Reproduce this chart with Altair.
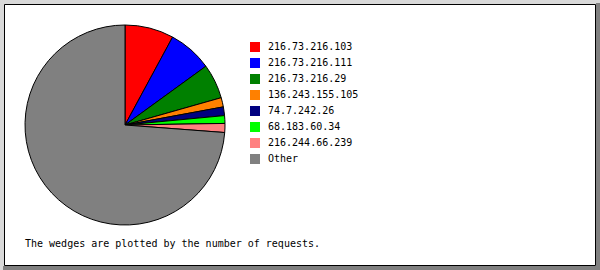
import altair as alt
import pandas as pd

hosts = ["216.73.216.103", "216.73.216.111", "216.73.216.29", "136.243.155.105",
         "74.7.242.26", "68.183.60.34", "216.244.66.239", "Other"]
shares = [7.9, 7.1, 5.6, 1.5, 1.4, 1.25, 1.45, 73.8]
colors = ["#ff0000", "#0000ff", "#008000", "#ff8000", "#000080", "#00ff00", "#ff8080", "#808080"]
footer = "The wedges are plotted by the number of requests."

df = pd.DataFrame({"host": hosts, "share": shares, "idx": list(range(len(hosts)))})
one = alt.Data(values=[{}])

W, H = 600, 270

bevel_right = alt.Chart(one).mark_rect(color="#808080").encode(
    x=alt.value(596), x2=alt.value(600), y=alt.value(3), y2=alt.value(270))
bevel_bottom = alt.Chart(one).mark_rect(color="#808080").encode(
    x=alt.value(3), x2=alt.value(600), y=alt.value(266), y2=alt.value(270))
panel = alt.Chart(one).mark_rect(color="white", stroke="black", strokeWidth=1).encode(
    x=alt.value(4.5), x2=alt.value(595.5), y=alt.value(4.5), y2=alt.value(265.5))

pie = alt.Chart(df).mark_arc(
    x=125, y=125, outerRadius=100, stroke="black", strokeWidth=1
).encode(
    theta=alt.Theta("share:Q", stack=True),
    order=alt.Order("idx:Q"),
    color=alt.Color(
        "host:N",
        scale=alt.Scale(domain=hosts, range=colors),
        sort=hosts,
        legend=alt.Legend(
            title=None, orient="none", legendX=250, legendY=42,
            symbolType="square", symbolSize=100, symbolStrokeWidth=0,
            symbolOpacity=1,
            labelFont="DejaVu Sans Mono", labelFontSize=10, labelColor="black",
            labelOffset=8, rowPadding=6, padding=0,
        ),
    ),
)

text = alt.Chart(alt.Data(values=[{"t": footer}])).mark_text(
    font="DejaVu Sans Mono", fontSize=10, color="black", align="left", baseline="middle"
).encode(x=alt.value(25), y=alt.value(244), text="t:N")

chart = alt.layer(bevel_right, bevel_bottom, panel, pie, text).properties(
    width=W, height=H, padding=0, autosize=alt.AutoSizeParams(type="none"),
    background="#d9d9d9",
).configure_view(stroke=None)

chart.save("out.html", embed_options={"renderer": "svg", "actions": False})
